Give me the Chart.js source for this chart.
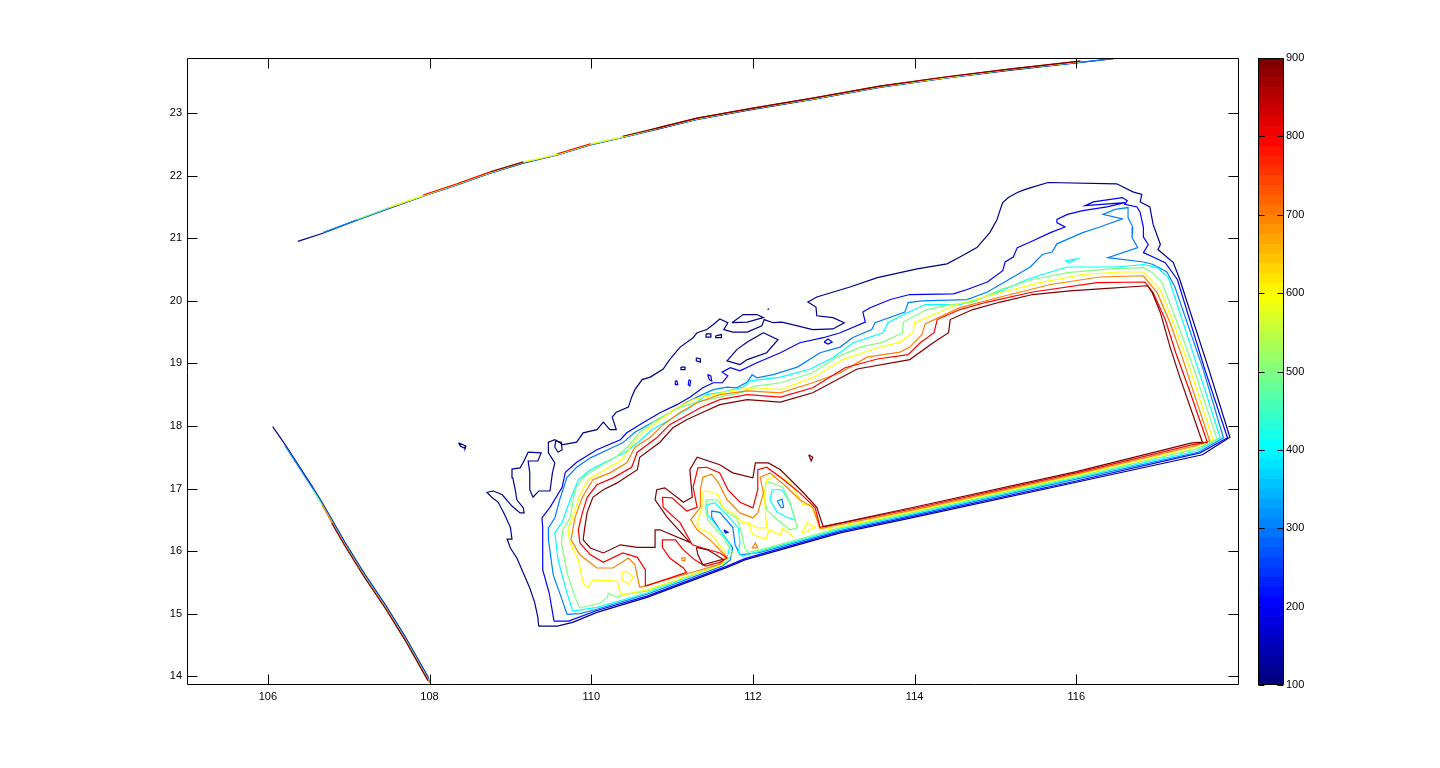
<!DOCTYPE html>
<html>
<head>
<meta charset="utf-8">
<title>Contour</title>
<script src="https://cdn.jsdelivr.net/npm/chart.js@4/dist/chart.umd.min.js"></script>
<style>
  html, body { margin: 0; padding: 0; background: #fff; overflow: hidden; }
  canvas { position: absolute; top: 0; }
  #plot { left: 0; }
  #bar { left: 1245px; }
</style>
</head>
<body>
<canvas id="plot" width="1245" height="768"></canvas>
<canvas id="bar" width="75" height="768"></canvas>
<script>
// Ticks of both axes and the colour bar
const lonTicks = [106, 108, 110, 112, 114, 116];
const latTicks = [14, 15, 16, 17, 18, 19, 20, 21, 22, 23];
const barTicks = [100, 200, 300, 400, 500, 600, 700, 800, 900];
const levels = [100, 200, 300, 400, 500, 600, 700, 800, 900];
const levelColors = ["#00008f", "#0000ff", "#0080ff", "#00ffff", "#80ff80", "#ffff00", "#ff8000", "#ff0000", "#800000"];

// Main contour rings, [lon, lat]
const ring100 = [[109.35,14.80],[109.34,14.94],[109.30,15.18],[109.24,15.41],[109.16,15.65],[109.08,15.89],[109.00,16.05],[108.96,16.19],[109.02,16.19],[109.00,16.38],[108.93,16.58],[108.85,16.78],[108.77,16.86],[108.71,16.94],[108.79,16.96],[108.90,16.90],[109.02,16.72],[109.12,16.61],[109.17,16.61],[109.16,16.69],[109.08,16.82],[109.06,16.98],[109.03,17.17],[109.02,17.31],[109.12,17.33],[109.16,17.42],[109.22,17.58],[109.38,17.57],[109.34,17.44],[109.22,17.44],[109.24,17.25],[109.24,16.98],[109.28,16.86],[109.35,16.96],[109.49,16.96],[109.52,17.25],[109.55,17.41],[109.47,17.57],[109.47,17.74],[109.55,17.78],[109.65,17.70],[109.82,17.74],[109.90,17.89],[110.07,17.94],[110.15,18.06],[110.23,17.94],[110.31,17.94],[110.26,18.14],[110.31,18.22],[110.46,18.30],[110.50,18.46],[110.54,18.58],[110.63,18.74],[110.73,18.78],[110.89,18.91],[110.97,19.06],[111.10,19.26],[111.26,19.41],[111.31,19.49],[111.43,19.54],[111.51,19.62],[111.59,19.71],[111.69,19.65],[111.64,19.54],[111.75,19.50],[111.93,19.50],[112.11,19.60],[112.14,19.70],[112.25,19.65],[112.36,19.66],[112.74,19.54],[112.99,19.55],[113.13,19.65],[112.99,19.73],[112.79,19.76],[112.78,19.90],[112.68,19.98],[112.79,20.06],[113.20,20.22],[113.54,20.37],[114.03,20.51],[114.40,20.59],[114.56,20.70],[114.77,20.85],[114.93,21.09],[115.02,21.30],[115.06,21.46],[115.09,21.57],[115.16,21.65],[115.27,21.73],[115.37,21.78],[115.47,21.82],[115.65,21.89],[116.50,21.87],[116.70,21.74],[116.81,21.70],[116.79,21.58],[116.91,21.50],[116.95,21.22],[117.04,20.90],[117.01,20.82],[117.20,20.61],[117.28,20.34],[117.64,18.90],[117.90,17.82],[117.56,17.54],[116.00,17.10],[113.99,16.54],[113.08,16.29],[111.90,15.86],[111.68,15.74],[110.69,15.26],[110.07,15.02],[109.77,14.86],[109.58,14.80]];
const ring200 = [[109.54,14.88],[109.48,15.33],[109.40,15.70],[109.40,16.06],[109.40,16.38],[109.39,16.53],[109.49,16.70],[109.64,17.02],[109.68,17.26],[109.82,17.42],[110.07,17.62],[110.36,17.78],[110.44,17.89],[110.64,18.05],[110.85,18.21],[111.06,18.34],[111.22,18.46],[111.38,18.61],[111.51,18.69],[111.62,18.69],[111.69,18.80],[111.62,18.86],[111.72,18.93],[111.84,18.88],[112.05,19.01],[112.34,19.17],[112.58,19.33],[112.87,19.41],[113.08,19.49],[113.39,19.66],[113.36,19.82],[113.45,19.89],[113.70,20.02],[113.94,20.10],[114.48,20.11],[114.65,20.18],[114.90,20.30],[115.09,20.48],[115.12,20.62],[115.22,20.70],[115.27,20.85],[115.43,20.94],[115.68,21.09],[115.86,21.18],[115.76,21.25],[115.76,21.30],[115.89,21.38],[116.08,21.44],[116.38,21.50],[116.60,21.57],[116.11,21.52],[116.21,21.58],[116.57,21.65],[116.63,21.60],[116.60,21.54],[116.75,21.50],[116.79,21.41],[116.83,21.17],[116.83,21.02],[116.89,20.90],[116.83,20.77],[116.95,20.70],[117.10,20.61],[117.25,20.34],[117.59,18.90],[117.87,17.81],[117.53,17.57],[116.00,17.12],[113.99,16.56],[113.08,16.31],[111.90,15.88],[111.68,15.76],[110.69,15.28],[110.07,15.05],[109.72,14.88]];
const ring300 = [[109.70,14.99],[109.64,15.22],[109.53,15.62],[109.47,16.18],[109.47,16.37],[109.55,16.53],[109.61,16.82],[109.70,17.18],[109.82,17.34],[109.99,17.49],[110.27,17.66],[110.39,17.73],[110.54,17.90],[110.76,18.06],[110.97,18.21],[111.18,18.38],[111.31,18.46],[111.51,18.58],[111.68,18.62],[111.80,18.61],[111.93,18.70],[111.99,18.82],[112.05,18.77],[112.25,18.82],[112.55,18.94],[112.83,19.17],[113.08,19.26],[113.23,19.41],[113.47,19.54],[113.51,19.65],[113.88,19.82],[113.92,19.97],[114.09,20.00],[114.65,20.02],[114.90,20.14],[115.06,20.26],[115.43,20.54],[115.58,20.74],[115.70,20.78],[115.76,20.91],[116.08,21.09],[116.29,21.18],[116.57,21.31],[116.33,21.38],[116.48,21.46],[116.64,21.49],[116.64,21.33],[116.70,21.17],[116.69,21.01],[116.76,20.85],[116.39,20.69],[116.83,20.62],[116.95,20.58],[117.12,20.46],[117.22,20.22],[117.57,18.90],[117.82,17.81],[117.51,17.58],[116.00,17.15],[113.99,16.58],[113.08,16.33],[112.09,15.98],[111.84,15.94],[111.78,16.10],[111.75,16.38],[111.59,16.62],[111.49,16.64],[111.49,16.54],[111.59,16.34],[111.75,16.05],[111.72,15.86],[111.62,15.76],[110.69,15.31],[110.07,15.07],[109.86,15.00]];
const ring400 = [[109.77,15.04],[109.68,15.42],[109.59,15.86],[109.55,16.29],[109.64,16.46],[109.74,16.82],[109.84,17.14],[109.99,17.30],[110.17,17.42],[110.42,17.58],[110.58,17.74],[110.75,17.94],[110.97,18.10],[111.22,18.29],[111.43,18.50],[111.63,18.54],[111.88,18.62],[111.96,18.72],[112.09,18.74],[112.34,18.78],[112.71,18.91],[112.99,19.09],[113.24,19.33],[113.61,19.49],[113.67,19.65],[113.91,19.81],[114.13,19.94],[114.56,19.94],[114.77,20.02],[115.02,20.13],[115.39,20.34],[115.68,20.46],[115.89,20.54],[116.50,20.54],[116.83,20.58],[117.00,20.53],[117.14,20.37],[117.51,18.90],[117.78,17.81],[117.49,17.60],[116.00,17.17],[113.99,16.60],[113.08,16.35],[112.09,16.00],[111.87,15.92],[111.82,15.98],[111.84,16.13],[111.82,16.37],[111.68,16.58],[111.53,16.77],[111.43,16.74],[111.44,16.58],[111.59,16.34],[111.72,16.10],[111.69,15.94],[111.59,15.78],[110.69,15.33],[110.07,15.10]];
const ring500 = [[109.86,15.09],[109.80,15.26],[109.70,15.66],[109.63,16.13],[109.65,16.34],[109.74,16.54],[109.80,16.98],[109.90,17.18],[110.11,17.36],[110.32,17.52],[110.46,17.68],[110.60,17.90],[110.81,18.10],[111.10,18.30],[111.31,18.38],[111.59,18.46],[111.88,18.54],[111.96,18.61],[112.05,18.64],[112.34,18.69],[112.74,18.85],[113.04,19.10],[113.33,19.26],[113.61,19.34],[113.85,19.49],[113.86,19.66],[114.15,19.86],[114.44,19.94],[114.72,19.98],[115.06,20.18],[115.46,20.34],[115.89,20.45],[116.42,20.51],[116.83,20.53],[116.94,20.45],[117.06,20.29],[117.28,19.54],[117.47,18.85],[117.74,17.79],[117.48,17.63],[116.00,17.19],[113.99,16.62],[113.08,16.37],[112.09,16.02],[111.94,15.98],[111.90,16.05],[111.85,16.34],[111.80,16.53],[111.68,16.62],[111.56,16.82],[111.43,16.82],[111.41,16.70],[111.44,16.50],[111.63,16.22],[111.75,15.97],[111.66,15.82],[110.69,15.36],[110.38,15.30],[110.32,15.26],[110.21,15.33],[110.20,15.26],[110.11,15.17]];
const ring600 = [[110.39,15.30],[110.36,15.33],[110.32,15.52],[110.02,15.54],[109.96,15.42],[109.90,15.49],[109.84,15.86],[109.74,16.13],[109.71,16.34],[109.80,16.66],[109.86,16.90],[109.96,17.14],[110.17,17.30],[110.38,17.46],[110.52,17.73],[110.64,17.89],[110.85,18.10],[111.06,18.29],[111.26,18.42],[111.51,18.50],[111.80,18.58],[112.05,18.61],[112.34,18.58],[112.74,18.77],[113.11,19.06],[113.54,19.25],[113.82,19.34],[113.98,19.49],[114.00,19.65],[114.31,19.82],[114.52,19.94],[114.97,20.10],[115.55,20.29],[116.08,20.42],[116.54,20.46],[116.83,20.46],[117.04,20.18],[117.22,19.58],[117.41,18.90],[117.69,17.78],[117.47,17.66],[116.00,17.21],[113.99,16.64],[113.08,16.39],[112.83,16.34],[112.79,16.53],[112.71,16.74],[112.62,16.74],[112.55,16.90],[112.46,17.09],[112.30,17.22],[112.17,17.14],[112.14,16.90],[112.16,16.54],[112.17,16.37],[112.05,16.37],[111.94,16.45],[111.87,16.45],[111.78,16.58],[111.63,16.69],[111.57,16.90],[111.44,16.96],[111.37,16.94],[111.37,16.70],[111.31,16.46],[111.32,16.37],[111.47,16.29],[111.66,15.97],[111.62,15.78],[110.69,15.38]];
const ring700 = [[110.60,15.42],[110.54,15.78],[110.46,15.89],[110.27,15.73],[110.07,15.73],[109.86,15.94],[109.75,16.18],[109.80,16.54],[109.89,16.86],[110.02,17.14],[110.23,17.25],[110.44,17.41],[110.54,17.66],[110.73,17.82],[110.89,18.02],[111.10,18.22],[111.31,18.37],[111.59,18.50],[111.93,18.56],[112.34,18.53],[112.74,18.69],[113.08,18.85],[113.41,19.10],[113.82,19.18],[113.94,19.26],[114.09,19.46],[114.13,19.63],[114.56,19.89],[115.06,20.06],[115.68,20.26],[116.29,20.38],[116.83,20.40],[117.00,20.13],[117.16,19.65],[117.31,19.10],[117.44,18.58],[117.65,17.76],[117.46,17.68],[116.00,17.23],[113.99,16.66],[112.83,16.36],[112.74,16.70],[112.58,16.82],[112.42,17.02],[112.21,17.25],[112.09,17.18],[112.13,16.93],[112.06,16.61],[112.00,16.53],[111.84,16.61],[111.68,16.82],[111.57,17.10],[111.49,17.23],[111.38,17.18],[111.35,16.98],[111.35,16.70],[111.23,16.50],[111.31,16.34],[111.47,16.18],[111.68,15.90],[111.59,15.79]];
const ring800 = [[110.67,15.44],[110.67,15.70],[110.57,15.90],[110.39,15.97],[110.15,15.82],[109.99,15.94],[109.86,16.13],[109.84,16.34],[109.89,16.61],[109.95,16.86],[110.07,17.06],[110.27,17.17],[110.50,17.34],[110.57,17.58],[110.81,17.81],[110.97,18.02],[111.14,18.14],[111.35,18.29],[111.59,18.42],[111.93,18.50],[112.34,18.46],[112.74,18.61],[113.14,18.93],[113.54,19.07],[113.92,19.14],[114.07,19.33],[114.24,19.49],[114.28,19.70],[114.56,19.86],[114.90,19.98],[115.46,20.14],[116.26,20.29],[116.85,20.30],[116.95,20.13],[117.10,19.70],[117.23,19.17],[117.41,18.53],[117.62,17.74],[117.44,17.70],[116.00,17.25],[113.99,16.68],[112.83,16.38],[112.77,16.69],[112.58,16.93],[112.34,17.18],[112.17,17.34],[112.06,17.30],[112.06,16.98],[112.00,16.69],[111.84,16.78],[111.69,16.98],[111.59,17.25],[111.43,17.34],[111.32,17.33],[111.26,17.02],[111.31,16.70],[111.18,16.64],[111.00,16.85],[110.88,16.86],[110.89,16.70],[111.10,16.45],[111.25,16.10],[111.38,16.05],[111.59,15.97],[111.68,15.89],[111.59,15.82],[111.41,15.76],[111.28,15.86],[111.14,16.02],[111.04,16.18],[110.88,16.18],[110.88,16.06],[110.97,15.89],[111.14,15.73],[111.18,15.66]];
const ring900 = [[112.87,16.39],[112.79,16.70],[112.62,16.94],[112.34,17.30],[112.19,17.41],[112.03,17.41],[112.00,17.17],[111.75,17.25],[111.59,17.38],[111.31,17.50],[111.22,17.30],[111.25,16.86],[111.14,16.78],[110.91,17.01],[110.81,16.98],[110.79,16.82],[110.94,16.54],[111.22,16.14],[110.85,16.34],[110.79,16.34],[110.79,16.06],[110.57,16.06],[110.36,16.10],[110.15,15.97],[109.99,16.05],[109.90,16.18],[109.92,16.38],[109.95,16.62],[110.02,16.86],[110.15,16.98],[110.32,17.09],[110.57,17.30],[110.60,17.50],[110.85,17.74],[111.01,17.97],[111.18,18.10],[111.38,18.22],[111.59,18.34],[111.93,18.42],[112.34,18.38],[112.74,18.53],[113.29,18.91],[113.94,19.06],[114.23,19.33],[114.42,19.49],[114.44,19.70],[114.72,19.86],[115.06,19.98],[115.46,20.10],[115.92,20.16],[116.29,20.19],[116.88,20.24],[116.94,20.13],[117.04,19.81],[117.16,19.26],[117.28,18.78],[117.56,17.74],[117.43,17.73],[116.00,17.27],[113.99,16.70]];

// Small islands and inner lobes
const islandPeninsula = [[112.13,19.49],[112.31,19.38],[112.17,19.17],[111.93,19.06],[111.84,18.98],[111.68,19.04],[111.80,19.22],[111.93,19.34]];
const islandNorth = [[111.74,19.65],[111.88,19.78],[112.05,19.78],[112.13,19.73],[111.93,19.66]];
const islandA = [[111.42,19.47],[111.48,19.47],[111.48,19.42],[111.42,19.42]];
const islandB = [[111.54,19.44],[111.61,19.46],[111.61,19.41],[111.54,19.41]];
const islandC = [[111.30,19.09],[111.35,19.07],[111.35,19.02],[111.30,19.04]];
const islandD = [[111.11,18.94],[111.16,18.94],[111.16,18.90],[111.11,18.90]];
const islandE = [[109.56,17.76],[109.63,17.74],[109.64,17.62],[109.59,17.58],[109.55,17.66]];
const islandW = [[108.36,17.73],[108.45,17.68],[108.44,17.64],[108.38,17.68]];
const islandDot = [[112.18,19.86],[112.20,19.87]];
const blueF = [[111.04,18.72],[111.06,18.72],[111.07,18.66],[111.04,18.66]];
const blueG = [[111.21,18.74],[111.23,18.72],[111.22,18.64],[111.20,18.66]];
const blueH = [[111.44,18.82],[111.48,18.80],[111.49,18.72],[111.46,18.74]];
const blueI = [[112.88,19.34],[112.93,19.39],[112.98,19.34],[112.93,19.31]];
const blueLobe = [[111.64,16.34],[111.69,16.30],[111.66,16.29]];
const skyLobe = [[112.30,16.80],[112.36,16.83],[112.38,16.70],[112.35,16.69]];
const cyanLobe = [[112.24,16.98],[112.36,16.98],[112.46,16.77],[112.52,16.50],[112.42,16.54],[112.30,16.62],[112.21,16.82]];
const cyanSliver = [[115.86,20.64],[116.01,20.67],[115.90,20.61]];
const greenLobe = [[112.16,17.09],[112.21,17.10],[112.37,17.02],[112.46,16.77],[112.55,16.37],[112.46,16.34],[112.30,16.50],[112.17,16.66],[112.14,16.90]];
const yellowWest = [[110.38,15.65],[110.43,15.68],[110.52,15.58],[110.46,15.47],[110.38,15.54]];
const yellowEast = [[112.61,16.30],[112.67,16.45],[112.77,16.38],[112.62,16.29]];
const yellowMiddle = [[111.94,16.45],[112.00,16.26],[112.16,16.19],[112.20,16.34],[112.34,16.26],[112.37,16.37],[112.50,16.22]];
const orangeTriangle = [[111.99,16.05],[112.03,16.13],[112.06,16.05]];
const orangeDot = [[111.12,15.85],[111.16,15.85],[111.16,15.89],[111.12,15.89]];
const darkTriangle = [[111.30,16.06],[111.44,16.02],[111.63,15.87],[111.38,15.78],[111.32,15.94]];
const darkDot = [[112.69,17.54],[112.74,17.50],[112.72,17.44]];

// Bundled contours along the open boundaries, one latitude list per level
const topLon = [106.37,106.68,107.10,107.51,107.92,108.34,108.75,109.16,109.58,109.99,110.39,110.81,111.31,112.00,112.74,113.57,114.40,115.22,116.05,116.46];
const topLat100 = [20.95,21.08,21.29,21.48,21.67,21.85,22.04,22.20,22.33,22.49,22.61,22.74,22.90,23.06,23.22,23.41,23.56,23.69,23.81,23.87];
const topLat300 = [null,21.09,21.29,21.49,21.67,21.86,22.04,22.21,22.33,22.50,22.61,22.75,22.90,23.07,23.22,23.42,23.56,23.70,23.81,23.87];
const topLat500 = [null,null,21.30,21.49,21.68,21.86,22.05,22.21,22.34,22.50,22.62,22.75,22.91,23.07,23.23,23.42,23.57,23.70,23.82,null];
const topLat600 = [null,null,null,21.50,21.68,21.87,22.05,22.22,22.34,22.51,22.62,22.76,22.91,23.08,23.23,23.43,23.57,23.71,23.82,null];
const topLat800 = [null,null,null,null,21.69,21.87,22.06,null,22.35,22.51,null,22.76,22.92,23.08,23.24,23.43,23.58,23.71,23.83,null];
const topLat900 = [null,null,null,null,null,null,22.06,22.22,null,null,22.63,22.76,22.92,23.08,23.24,23.43,23.58,23.71,23.83,null];
const leftLon = [106.06,106.21,106.37,106.55,106.67,106.79,106.95,107.20,107.45,107.70,107.98,108.00];
const leftLat100 = [17.99,17.71,17.39,17.03,16.78,16.51,16.15,15.63,15.15,14.63,13.99,13.91];
const leftLat300 = [null,17.69,17.37,17.01,16.76,16.49,16.13,15.61,15.13,14.61,13.97,13.89];
const leftLat500 = [null,null,null,16.99,16.74,16.47,16.11,15.59,15.11,14.59,13.95,13.90];
const leftLat700 = [null,null,null,null,16.74,16.46,16.10,15.58,15.10,14.58,13.94,13.92];
const leftLat900 = [null,null,null,null,null,16.45,16.09,15.57,15.09,14.57,13.93,null];

// level index, points; every one of these is a closed curve
const closedLines = [
  [0, ring100], [0, islandPeninsula], [0, islandNorth], [0, islandA], [0, islandB], [0, islandC], [0, islandD], [0, islandE], [0, islandW],
  [1, ring200], [1, blueF], [1, blueG], [1, blueH], [1, blueI], [1, blueLobe],
  [2, ring300], [2, skyLobe],
  [3, ring400], [3, cyanLobe], [3, cyanSliver],
  [4, ring500], [4, greenLobe],
  [5, ring600], [5, yellowWest], [5, yellowEast],
  [6, ring700], [6, orangeTriangle], [6, orangeDot],
  [7, ring800],
  [8, ring900], [8, darkTriangle], [8, darkDot],
];
const openLines = [[0, islandDot], [5, yellowMiddle]];
const bundles = [
  [0, topLon, topLat100], [2, topLon, topLat300], [4, topLon, topLat500], [5, topLon, topLat600], [7, topLon, topLat800], [8, topLon, topLat900],
  [0, leftLon, leftLat100], [2, leftLon, leftLat300], [4, leftLon, leftLat500], [6, leftLon, leftLat700], [8, leftLon, leftLat900],
];

function toDataset(level, points) {
  return {
    data: points,
    borderColor: levelColors[level],
    borderWidth: 1.2,
    pointRadius: 0,
    showLine: true,
    spanGaps: false,
    tension: 0,
    level,
  };
}

const toPoints = (pts) => pts.map((p) => ({ x: p[0], y: p[1] }));

const datasets = [
  ...bundles.map(([lv, lon, lat]) => toDataset(lv, lon.map((x, i) => ({ x, y: lat[i] })))),
  ...openLines.map(([lv, pts]) => toDataset(lv, toPoints(pts))),
  ...closedLines.map(([lv, pts]) => toDataset(lv, toPoints([...pts, pts[0]]))),
];
// Chart.js paints the first dataset last, the highest level has to end up on top
datasets.sort((a, b) => b.level - a.level);

// Matlab style frame with the tick marks inside
function frameTicks(id, xLen, yLen) {
  return {
    id,
    afterDraw(chart) {
      const { ctx, chartArea: a, scales } = chart;
      const l = Math.round(a.left) + 0.5, r = Math.round(a.right) + 0.5;
      const t = Math.round(a.top) + 0.5, b = Math.round(a.bottom) - 0.5;
      ctx.save();
      ctx.strokeStyle = "#000";
      ctx.lineWidth = 1;
      ctx.beginPath();
      ctx.rect(l, t, r - l, b - t);
      if (xLen) {
        scales.x.ticks.forEach((tk) => {
          const px = Math.round(scales.x.getPixelForValue(tk.value)) + 0.5;
          ctx.moveTo(px, b); ctx.lineTo(px, b - xLen);
          ctx.moveTo(px, t); ctx.lineTo(px, t + xLen);
        });
      }
      scales.y.ticks.forEach((tk) => {
        const py = Math.round(scales.y.getPixelForValue(tk.value)) + 0.5;
        ctx.moveTo(l, py); ctx.lineTo(l + yLen, py);
        ctx.moveTo(r, py); ctx.lineTo(r - yLen, py);
      });
      ctx.stroke();
      ctx.restore();
    },
  };
}

const tickFont = { family: "'Liberation Sans', Arial, sans-serif", size: 11 };

new Chart(document.getElementById("plot"), {
  type: "scatter",
  data: { datasets },
  options: {
    responsive: false,
    animation: false,
    devicePixelRatio: 1,
    events: [],
    layout: { padding: { left: 0, top: 58, right: 7, bottom: 0 } },
    plugins: { legend: { display: false }, tooltip: { enabled: false } },
    scales: {
      x: {
        type: "linear",
        min: 105,
        max: 118,
        grid: { display: false, drawTicks: false },
        border: { display: false },
        ticks: { color: "#000", font: tickFont, padding: 5, maxRotation: 0, autoSkip: false },
        afterBuildTicks: (s) => { s.ticks = lonTicks.map((v) => ({ value: v })); },
        afterFit: (s) => { s.height = 83; },
      },
      y: {
        type: "linear",
        min: 13.86,
        max: 23.88,
        grid: { display: false, drawTicks: false },
        border: { display: false },
        ticks: { color: "#000", font: tickFont, padding: 5, autoSkip: false },
        afterBuildTicks: (s) => { s.ticks = latTicks.map((v) => ({ value: v })); },
        afterFit: (s) => { s.width = 187; },
      },
    },
  },
  plugins: [frameTicks("plotFrame", 10, 10)],
});

// Colour bar: 64 steps of the jet map from 100 to 900
function jet(i) {
  const t = i / 63;
  const c = (v) => Math.round(255 * Math.max(0, Math.min(1, 1.5 - Math.abs(4 * t - v))));
  return `rgb(${c(3)},${c(2)},${c(1)})`;
}
const barMin = barTicks[0];
const barMax = barTicks[barTicks.length - 1];
const barStep = (barMax - barMin) / 64;
const barSets = Array.from({ length: 64 }, (_, i) => ({
  data: [[barMin + i * barStep, barMin + (i + 1) * barStep]],
  backgroundColor: jet(i),
  borderWidth: 0,
  grouped: false,
  barPercentage: 1,
  categoryPercentage: 1,
}));

new Chart(document.getElementById("bar"), {
  type: "bar",
  data: { labels: [""], datasets: barSets },
  options: {
    responsive: false,
    animation: false,
    devicePixelRatio: 1,
    events: [],
    layout: { padding: { left: 13, top: 58, right: 0, bottom: 83 } },
    plugins: { legend: { display: false }, tooltip: { enabled: false } },
    scales: {
      x: { display: false },
      y: {
        position: "right",
        min: barMin,
        max: barMax,
        grid: { display: false, drawTicks: false },
        border: { display: false },
        ticks: { color: "#000", font: tickFont, padding: 3, autoSkip: false },
        afterBuildTicks: (s) => { s.ticks = barTicks.map((v) => ({ value: v })); },
        afterFit: (s) => { s.width = 37; },
      },
    },
  },
  plugins: [frameTicks("barFrame", 0, 6)],
});
</script>
</body>
</html>
